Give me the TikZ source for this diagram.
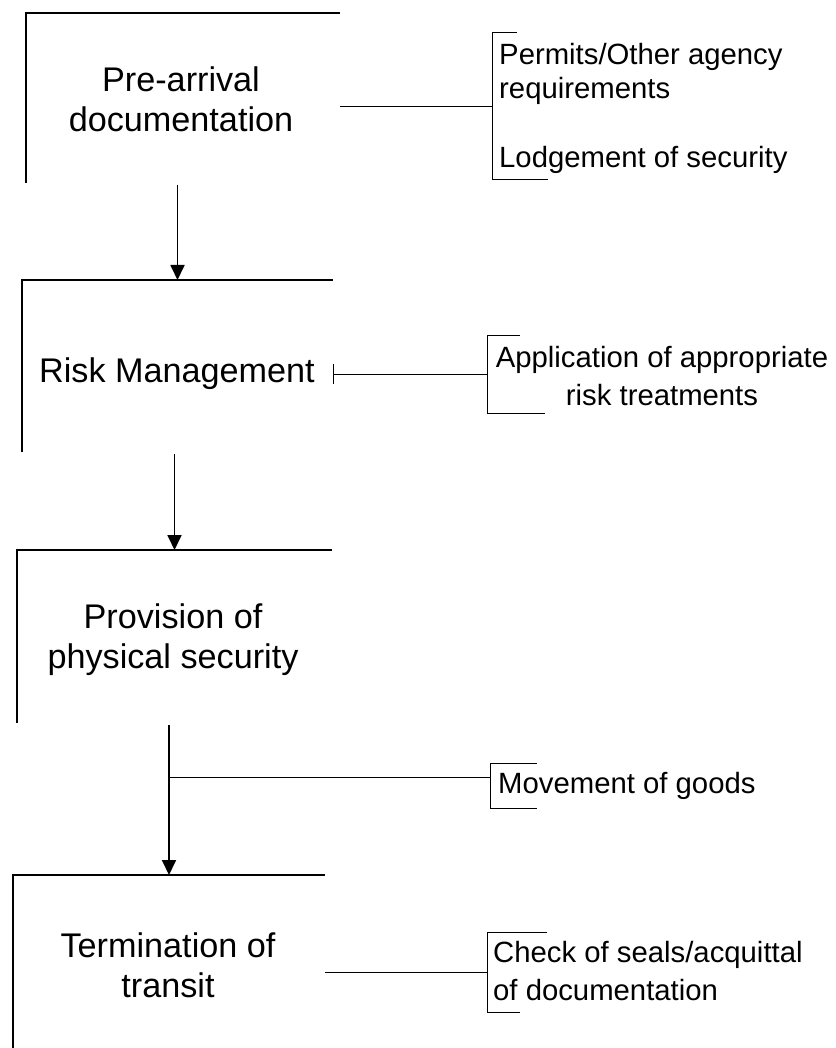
\documentclass[tikz,border=0pt]{standalone}
\usepackage{fontspec}
\setmainfont{Liberation Sans}
\usetikzlibrary{arrows.meta,calc}

\tikzset{
  frame/.style={inner sep=0pt, outer sep=0pt},
  frameline/.style={line width=1.3pt, black},
  flowarrow/.style={line width=1.8pt, black, -{Triangle[length=15pt,width=14pt]}, shorten <=2pt},
  linkline/.style={line width=1pt, black},
  brk/.style={inner sep=0pt, outer sep=0pt, minimum width=1pt},
  bracketline/.style={line width=1pt, black},
  stagetext/.style={font=\fontsize{34.2}{40}\selectfont, align=center, anchor=base, inner sep=0pt},
  itemtext/.style={font=\fontsize{29.3}{38}\selectfont, anchor=base west, inner sep=0pt}
}

\begin{document}
\begin{tikzpicture}[x=1pt,y=-1pt]
\useasboundingbox (0,0) rectangle (835,1048);

% ---- stage frames (top and left edges only) ----
\node[frame, minimum width=314pt, minimum height=170pt] (b1) at (183,98) {};
\node[frame, minimum width=311pt, minimum height=172pt] (b2) at (177.5,366) {};
\node[frame, minimum width=315pt, minimum height=173pt] (b3) at (174.5,636.5) {};
\node[frame, minimum width=312pt, minimum height=173pt] (b4) at (169,961.5) {};

\foreach \b in {b1,b2,b3,b4}
  \draw[frameline] (\b.south west) -- (\b.north west) -- (\b.north east);

% ---- stage titles (anchored at the baseline of the last line) ----
\node[stagetext] (t1) at (181,132) {Pre-arrival\\documentation};
\node[stagetext] (t2) at (177,382) {Risk Management};
\node[stagetext] (t3) at (173,668) {Provision of\\physical security};
\node[stagetext] (t4) at (168,997) {Termination of\\transit};

% ---- flow arrows ----
\draw[flowarrow] (b2.north |- b1.south) -- (b2.north);
\draw[flowarrow] (b3.north |- b2.south) -- (b3.north);
\draw[flowarrow] (b4.north |- b3.south) -- (b4.north);

% ---- side brackets ----
\node[brk, minimum height=147pt, anchor=west] (br1) at (492,106.5) {};
\node[brk, minimum height=78pt,  anchor=west] (br2) at (487,374) {};
\node[brk, minimum height=45pt,  anchor=west] (br3) at (490,785.5) {};
\node[brk, minimum height=80pt,  anchor=west] (br4) at (487,972) {};

\draw[bracketline] (br1.north west) ++(25,0) -- (br1.north west) -- (br1.south west) -- ++(56,0);
\draw[bracketline] (br2.north west) ++(33,0) -- (br2.north west) -- (br2.south west) -- ++(58,0);
\draw[bracketline] (br3.north west) ++(47,0) -- (br3.north west) -- (br3.south west) -- ++(47,0);
\draw[bracketline] (br4.north west) ++(60,0) -- (br4.north west) -- (br4.south west) -- ++(33,0);

% ---- side items (multi-line ones anchored at their last line) ----
\node[itemtext, align=left, font=\fontsize{29.3}{34}\selectfont] (s1a) at (499,99) {Permits/Other agency\\requirements};
\node[itemtext] (s1b) at (499,168) {Lodgement of security};
\node[itemtext, align=center, anchor=base] (s2) at (662,405) {Application of appropriate\\risk treatments};
\node[itemtext] (s3) at (498,793) {Movement of goods};
\node[itemtext, align=left] (s4) at (493,1000) {Check of seals/acquittal\\of documentation};

% ---- links from stages to brackets ----
\draw[linkline] (br1.west -| b1.east) -- (br1.west);
\draw[linkline] (br2.west -| b2.east) -- (br2.west);
\draw[linkline] ($(br2.west -| b2.east)+(0,-10)$) -- ($(br2.west -| b2.east)+(0,10)$);
\coordinate (mv) at (b4.north |- 0,777);
\draw[linkline] (mv) -- (mv -| br3.west);
\draw[linkline] (br4.west -| b4.east) -- (br4.west);
\end{tikzpicture}
\end{document}
